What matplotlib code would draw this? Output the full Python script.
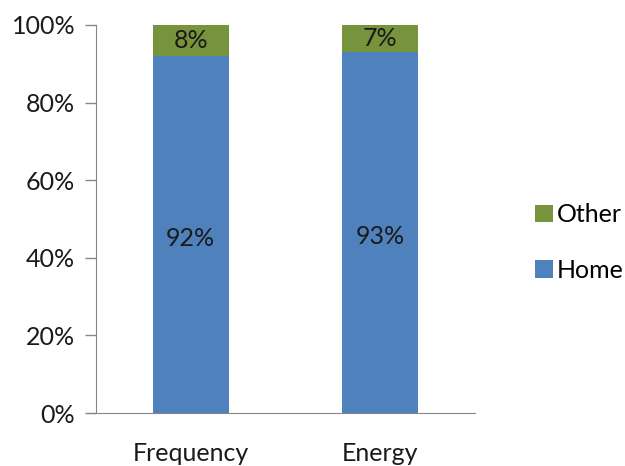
import numpy as np
import matplotlib.pyplot as plt

plt.rcParams['font.family'] = ['Lato', 'DejaVu Sans']

categories = ['Frequency', 'Energy']
home = [92, 93]
other = [8, 7]
yticks = [0, 20, 40, 60, 80, 100]

blue = '#4F81BD'
green = '#77933C'
axis_col = '#868686'

fig = plt.figure(figsize=(6.25, 4.66), dpi=100)
ax = fig.add_axes([0.1536, 0.1137, 0.6064, 0.8327])

x = np.arange(len(categories))
b1 = ax.bar(x, home, width=0.4, color=blue, label='Home')
b2 = ax.bar(x, other, width=0.4, bottom=home, color=green, label='Other')

for i in range(len(categories)):
    ax.text(x[i], home[i] / 2 - 1, f'{home[i]}%', ha='center', va='center', fontsize=18, color='#1a1a1a')
    ax.text(x[i], home[i] + other[i] / 2, f'{other[i]}%', ha='center', va='center', fontsize=18, color='#1a1a1a')

ax.set_xlim(-0.5, 1.5)
ax.set_ylim(0, 100)
ax.set_yticks(yticks)
ax.set_yticklabels([f'{v}%' for v in yticks], fontsize=18, color='#1a1a1a')
ax.set_xticks(x)
ax.set_xticklabels(categories, fontsize=18, color='#1a1a1a')
ax.tick_params(axis='x', length=0, pad=21)
ax.tick_params(axis='y', length=8, color=axis_col, width=1, pad=7)

for s in ['top', 'right']:
    ax.spines[s].set_visible(False)
ax.spines['left'].set_color(axis_col)
ax.spines['bottom'].set_color(axis_col)
ax.spines['bottom'].set_bounds(-0.5 - 0.04, 1.5)

leg = ax.legend(handles=[b2, b1], loc='center left', bbox_to_anchor=(1.1, 0.44),
                frameon=False, fontsize=18, handlelength=0.7, handleheight=0.7,
                handletextpad=0.15, labelspacing=1.3)

fig.savefig('out.png', dpi=100)
